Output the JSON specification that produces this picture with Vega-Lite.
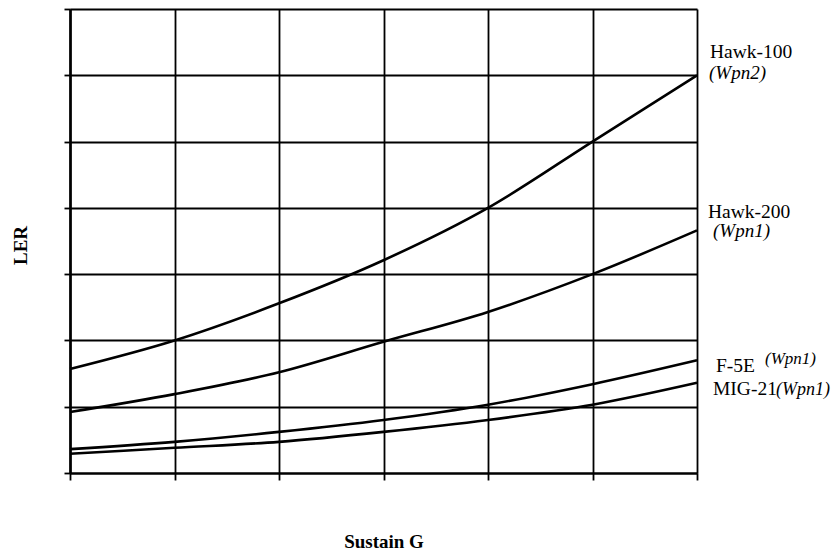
{
  "$schema": "https://vega.github.io/schema/vega-lite/v6.json",
  "width": 627,
  "height": 464,
  "autosize": "none",
  "padding": {"left": 70, "top": 9, "right": 136, "bottom": 82},
  "background": "white",
  "config": {"view": {"stroke": null}, "font": "Liberation Serif"},
  "data": {
    "values": [
      {"series": "Hawk-100", "weapon": "(Wpn2)", "g": 0, "ler": 1.57},
      {"series": "Hawk-100", "weapon": "(Wpn2)", "g": 1, "ler": 2.0},
      {"series": "Hawk-100", "weapon": "(Wpn2)", "g": 2, "ler": 2.56},
      {"series": "Hawk-100", "weapon": "(Wpn2)", "g": 3, "ler": 3.21},
      {"series": "Hawk-100", "weapon": "(Wpn2)", "g": 4, "ler": 4.0},
      {"series": "Hawk-100", "weapon": "(Wpn2)", "g": 5, "ler": 5.0},
      {"series": "Hawk-100", "weapon": "(Wpn2)", "g": 6, "ler": 6.0},
      {"series": "Hawk-200", "weapon": "(Wpn1)", "g": 0, "ler": 0.92},
      {"series": "Hawk-200", "weapon": "(Wpn1)", "g": 1, "ler": 1.19},
      {"series": "Hawk-200", "weapon": "(Wpn1)", "g": 2, "ler": 1.52},
      {"series": "Hawk-200", "weapon": "(Wpn1)", "g": 3, "ler": 1.98},
      {"series": "Hawk-200", "weapon": "(Wpn1)", "g": 4, "ler": 2.43},
      {"series": "Hawk-200", "weapon": "(Wpn1)", "g": 5, "ler": 3.0},
      {"series": "Hawk-200", "weapon": "(Wpn1)", "g": 6, "ler": 3.66},
      {"series": "F-5E", "weapon": "(Wpn1)", "g": 0, "ler": 0.36},
      {"series": "F-5E", "weapon": "(Wpn1)", "g": 1, "ler": 0.47},
      {"series": "F-5E", "weapon": "(Wpn1)", "g": 2, "ler": 0.62},
      {"series": "F-5E", "weapon": "(Wpn1)", "g": 3, "ler": 0.8},
      {"series": "F-5E", "weapon": "(Wpn1)", "g": 4, "ler": 1.03},
      {"series": "F-5E", "weapon": "(Wpn1)", "g": 5, "ler": 1.34},
      {"series": "F-5E", "weapon": "(Wpn1)", "g": 6, "ler": 1.7},
      {"series": "MIG-21", "weapon": "(Wpn1)", "g": 0, "ler": 0.29},
      {"series": "MIG-21", "weapon": "(Wpn1)", "g": 1, "ler": 0.38},
      {"series": "MIG-21", "weapon": "(Wpn1)", "g": 2, "ler": 0.47},
      {"series": "MIG-21", "weapon": "(Wpn1)", "g": 3, "ler": 0.62},
      {"series": "MIG-21", "weapon": "(Wpn1)", "g": 4, "ler": 0.8},
      {"series": "MIG-21", "weapon": "(Wpn1)", "g": 5, "ler": 1.03},
      {"series": "MIG-21", "weapon": "(Wpn1)", "g": 6, "ler": 1.36}
    ]
  },
  "encoding": {
    "x": {
      "field": "g", "type": "quantitative",
      "scale": {"domain": [0, 6], "nice": false, "zero": false},
      "axis": {
        "values": [0, 1, 2, 3, 4, 5, 6], "labels": false,
        "grid": true, "gridColor": "black", "gridWidth": 1.8, "gridOpacity": 1,
        "domainColor": "black", "domainWidth": 2,
        "tickColor": "black", "tickSize": 7, "tickWidth": 1.8,
        "title": "Sustain G", "titleFont": "Liberation Serif", "titleFontSize": 19,
        "titleFontWeight": "bold", "titleColor": "black",
        "titleX": 313.5, "titleY": 68, "titleBaseline": "middle", "titleAlign": "center"
      }
    },
    "y": {
      "field": "ler", "type": "quantitative",
      "scale": {"domain": [0, 7], "nice": false},
      "axis": {
        "values": [0, 1, 2, 3, 4, 5, 6, 7], "labels": false,
        "grid": true, "gridColor": "black", "gridWidth": 1.8, "gridOpacity": 1,
        "domainColor": "black", "domainWidth": 2.6,
        "tickColor": "black", "tickSize": 6, "tickWidth": 1.8,
        "title": "LER", "titleFont": "Liberation Serif", "titleFontSize": 19,
        "titleFontWeight": "bold", "titleColor": "black", "titleAngle": -90,
        "titleX": -50, "titleY": 236, "titleBaseline": "middle", "titleAlign": "center"
      }
    }
  },
  "layer": [
    {
      "mark": {"type": "line", "interpolate": "monotone", "color": "black", "strokeWidth": 2.6},
      "encoding": {"detail": {"field": "series"}}
    },
    {
      "transform": [{"filter": "datum.g === 6 && datum.series === 'Hawk-100'"}],
      "mark": {"type": "text", "align": "left", "baseline": "alphabetic", "dx": 13, "dy": -17, "fontSize": 19.5, "font": "Liberation Serif", "color": "black"},
      "encoding": {"text": {"field": "series"}}
    },
    {
      "transform": [{"filter": "datum.g === 6 && datum.series === 'Hawk-100'"}],
      "mark": {"type": "text", "align": "left", "baseline": "alphabetic", "dx": 12, "dy": 4, "fontSize": 19, "fontStyle": "italic", "font": "Liberation Serif", "color": "black"},
      "encoding": {"text": {"field": "weapon"}}
    },
    {
      "transform": [{"filter": "datum.g === 6 && datum.series === 'Hawk-200'"}],
      "mark": {"type": "text", "align": "left", "baseline": "alphabetic", "dx": 11, "dy": -12, "fontSize": 19.5, "font": "Liberation Serif", "color": "black"},
      "encoding": {"text": {"field": "series"}}
    },
    {
      "transform": [{"filter": "datum.g === 6 && datum.series === 'Hawk-200'"}],
      "mark": {"type": "text", "align": "left", "baseline": "alphabetic", "dx": 16, "dy": 7, "fontSize": 19, "fontStyle": "italic", "font": "Liberation Serif", "color": "black"},
      "encoding": {"text": {"field": "weapon"}}
    },
    {
      "transform": [{"filter": "datum.g === 6 && datum.series === 'F-5E'"}],
      "mark": {"type": "text", "align": "left", "baseline": "alphabetic", "dx": 19, "dy": 12, "fontSize": 19.5, "font": "Liberation Serif", "color": "black"},
      "encoding": {"text": {"field": "series"}}
    },
    {
      "transform": [{"filter": "datum.g === 6 && datum.series === 'F-5E'"}],
      "mark": {"type": "text", "align": "left", "baseline": "alphabetic", "dx": 68, "dy": 4, "fontSize": 17, "fontStyle": "italic", "font": "Liberation Serif", "color": "black"},
      "encoding": {"text": {"field": "weapon"}}
    },
    {
      "transform": [{"filter": "datum.g === 6 && datum.series === 'MIG-21'"}],
      "mark": {"type": "text", "align": "left", "baseline": "alphabetic", "dx": 16, "dy": 12, "fontSize": 19.5, "font": "Liberation Serif", "color": "black"},
      "encoding": {"text": {"field": "series"}}
    },
    {
      "transform": [{"filter": "datum.g === 6 && datum.series === 'MIG-21'"}],
      "mark": {"type": "text", "align": "left", "baseline": "alphabetic", "dx": 79, "dy": 12, "fontSize": 18, "fontStyle": "italic", "font": "Liberation Serif", "color": "black"},
      "encoding": {"text": {"field": "weapon"}}
    }
  ]
}
